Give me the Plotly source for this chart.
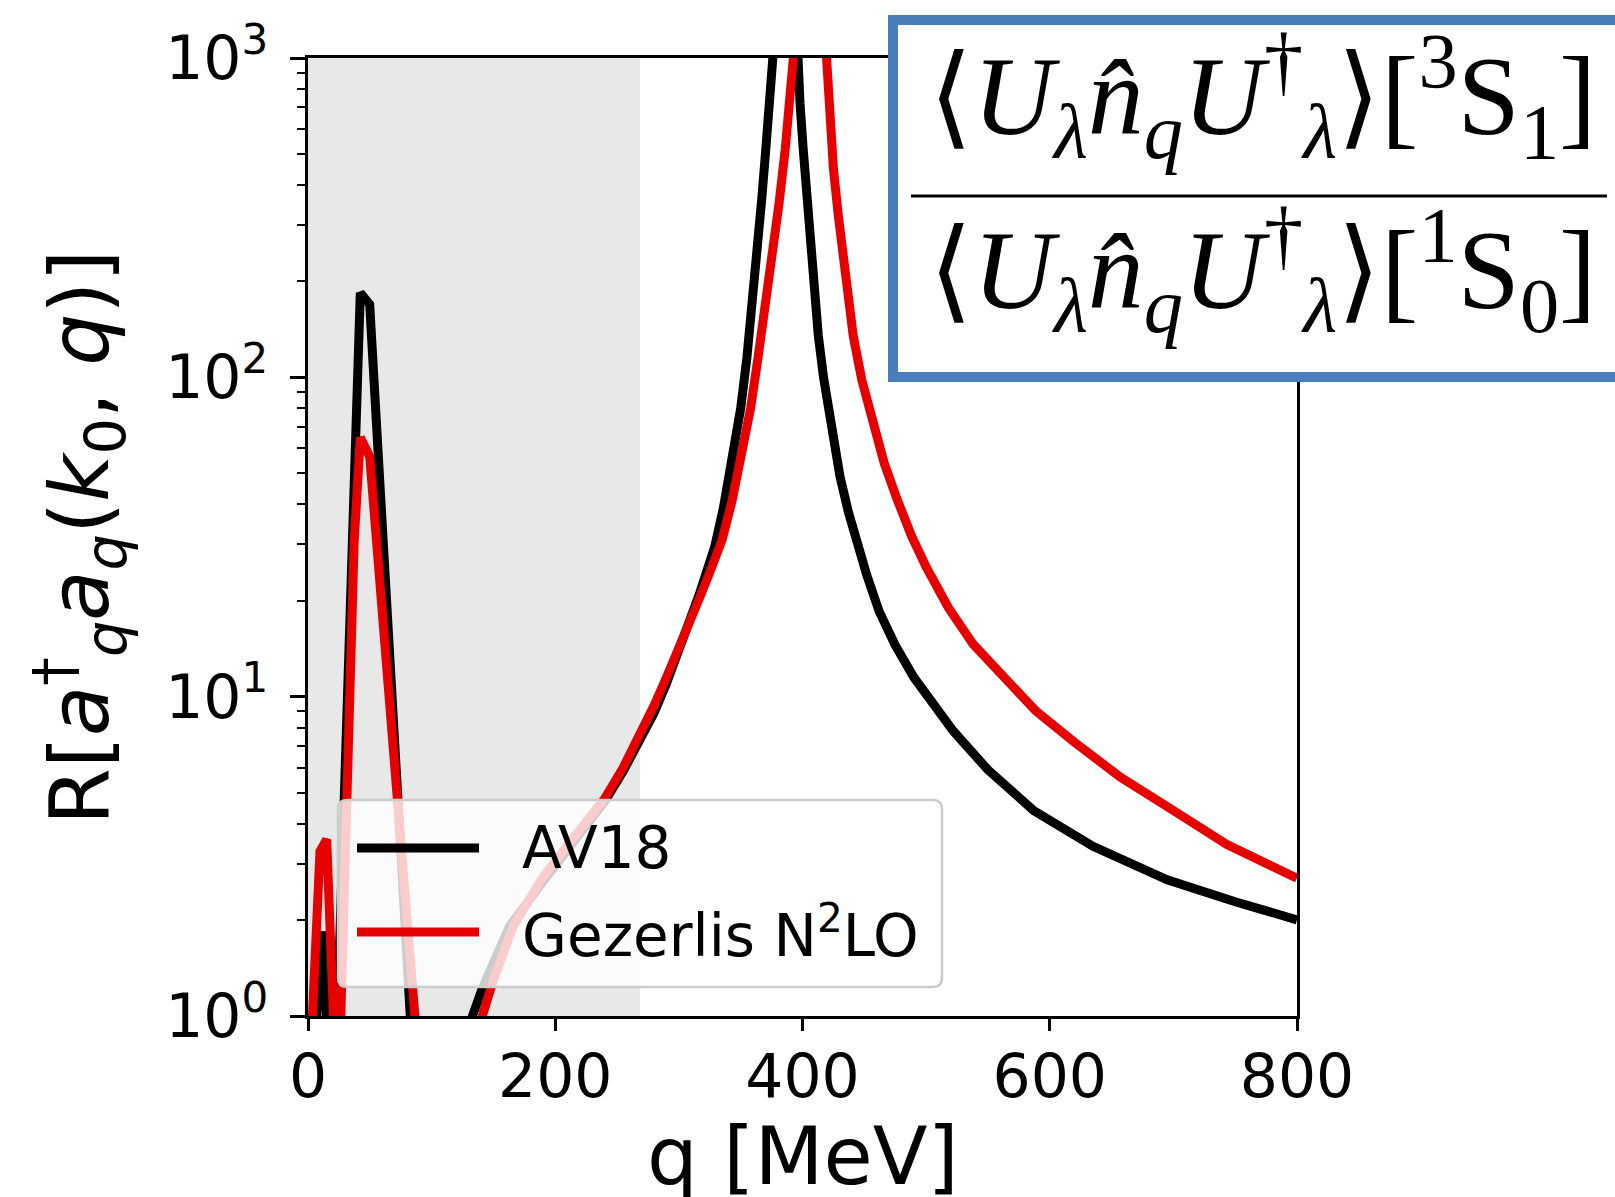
import plotly.graph_objects as go

# ---- data: ratio R[a†_q a_q(k0, q)] vs relative momentum q [MeV] ----
q_av18 = [0, 11.9, 20, 42.3, 49.9, 90, 105, 120, 133, 141, 150, 163, 190, 215,
          240, 255, 267, 280, 290, 300, 310, 317, 323, 329, 336, 344, 350, 355, 359,
          363, 367, 370, 373, 376, 386,
          395.3, 398, 400.6, 403, 406, 409, 412.8, 417, 423.6, 430.3, 437, 444, 452,
          462, 475, 490, 505, 522, 550, 587, 635, 695, 750, 800]
r_av18 = [0.42, 1.84, 0.35, 184, 169, 0.32, 0.12, 0.35, 1.0, 1.22, 1.48, 1.91, 2.63, 3.5,
          4.7, 5.85, 7.15, 8.9, 11.0, 13.8, 17.6, 21.2, 25, 29.5, 39, 58, 80, 115, 160,
          240, 360, 500, 700, 1000, 8000,
          1000, 720, 517, 385, 270, 195, 135, 100, 68, 49, 38, 30, 24,
          18.5, 14.5, 11.5, 9.5, 7.8, 5.9, 4.4, 3.4, 2.67, 2.28, 2.0]

q_gez = [0, 9.7, 15.1, 24, 37.3, 42.3, 49.9, 95, 110, 125, 141, 150, 166, 190, 215,
         240, 255, 267, 280, 290, 300, 310, 317, 325, 335, 343, 352, 358, 364, 370,
         376, 381, 386, 389.5, 392.6, 405,
         418.2, 420, 422.2, 425, 429, 434, 441, 448, 457, 466, 476, 488, 500, 518,
         538, 560, 589, 620, 657, 700, 743, 800]
r_gez = [0.5, 3.28, 3.57, 0.45, 30.4, 64.8, 56.5, 0.39, 0.15, 0.4, 1.0, 1.3, 1.91, 2.72, 3.62,
         4.8, 6.0, 7.35, 9.4, 11.5, 14.1, 17.4, 20.5, 24.5, 31, 41, 59.4, 80, 115, 165,
         245, 350, 517, 710, 1000, 8000,
         1000, 800, 600, 450, 320, 210, 135, 98, 72, 54, 42, 32, 25.5, 19,
         14.6, 11.8, 9.0, 7.2, 5.6, 4.4, 3.45, 2.7]

series_names = ["AV18", "Gezerlis N<sup>2</sup>LO"]
series_colors = ["#000000", "#e60000"]

x_ticks = [0, 200, 400, 600, 800]
y_ticks = [1, 10, 100, 1000]
y_ticktext = ["10<sup>0</sup>", "10<sup>1</sup>", "10<sup>2</sup>", "10<sup>3</sup>"]
y_minor = [m * 10 ** d for d in range(3) for m in range(2, 10)]

shade_end = 268.6  # upper edge of the shaded low-momentum band [MeV]

# ---- figure geometry (pixels) ----
W, H = 1615, 1197
L, R, T, B = 308, 318, 58, 181
PW, PH = W - L - R, H - T - B
LW = 9  # curve width


def px(xp):
    return (xp - L) / PW


def py(yp):
    return (H - B - yp) / PH


fig = go.Figure()
for qs, rs, name, col in [(q_av18, r_av18, series_names[0], series_colors[0]),
                          (q_gez, r_gez, series_names[1], series_colors[1])]:
    fig.add_trace(go.Scatter(x=qs, y=rs, mode="lines", name=name,
                             line=dict(color=col, width=LW), showlegend=False))

font = "DejaVu Sans"
axis_common = dict(showline=True, linecolor="black", linewidth=2.5, mirror=True,
                   showgrid=False, zeroline=False, ticks="outside", tickcolor="black",
                   tickwidth=2.5, tickfont=dict(family=font, size=60, color="black"))

fig.update_xaxes(range=[0, 800], tickvals=x_ticks, ticklen=12,
                 ticklabelstandoff=-6, **axis_common)
fig.update_yaxes(type="log", range=[0, 3], tickvals=y_ticks, ticktext=y_ticktext,
                 ticklen=15, ticklabelstandoff=10,
                 minor=dict(tickvals=y_minor, ticks="outside", ticklen=8.5,
                            tickwidth=2, tickcolor="black", showgrid=False),
                 **axis_common)

shapes = []
# shaded band
shapes.append(dict(type="rect", xref="x", yref="paper", x0=0, x1=shade_end, y0=0, y1=1,
                   fillcolor="#e8e8e8", line=dict(width=0), layer="below"))

# legend frame (rounded, semi-transparent)
lx0, lx1, ly0, ly1, rad = px(338), px(942), py(987), py(800), 9
rx, ry = rad / PW, rad / PH
path = (f"M {lx0 + rx},{ly1} L {lx1 - rx},{ly1} Q {lx1},{ly1} {lx1},{ly1 - ry} "
        f"L {lx1},{ly0 + ry} Q {lx1},{ly0} {lx1 - rx},{ly0} L {lx0 + rx},{ly0} "
        f"Q {lx0},{ly0} {lx0},{ly0 + ry} L {lx0},{ly1 - ry} Q {lx0},{ly1} {lx0 + rx},{ly1} Z")
shapes.append(dict(type="path", xref="paper", yref="paper", path=path,
                   fillcolor="rgba(255,255,255,0.8)", line=dict(color="#cccccc", width=2.5),
                   layer="above"))
for yl, col in [(848, series_colors[0]), (932, series_colors[1])]:
    shapes.append(dict(type="line", xref="paper", yref="paper", x0=px(357), x1=px(479),
                       y0=py(yl), y1=py(yl), line=dict(color=col, width=LW), layer="above"))

# formula box
shapes.append(dict(type="rect", xref="paper", yref="paper", x0=px(893), x1=px(1660),
                   y0=py(377), y1=py(20), fillcolor="white",
                   line=dict(color="#4a7ebb", width=10), layer="above"))
shapes.append(dict(type="line", xref="paper", yref="paper", x0=px(911), x1=px(1607),
                   y0=py(196), y1=py(196), line=dict(color="black", width=3), layer="above"))

annotations = []
for yl, txt in [(848, series_names[0]), (932, series_names[1])]:
    annotations.append(dict(x=px(520), y=py(yl), xref="paper", yref="paper", text=txt,
                            showarrow=False, xanchor="left", yanchor="middle",
                            font=dict(family=font, size=58, color="black")))

annotations.append(dict(x=px(802.5), y=py(1156), xref="paper", yref="paper",
                        text="q [MeV]", showarrow=False, xanchor="center", yanchor="middle",
                        font=dict(family=font, size=80, color="black")))
annotations.append(dict(x=px(80), y=py(538), xref="paper", yref="paper", textangle=-90,
                        text="R[<i>a</i><sup>†</sup><sub><i>q</i></sub><i>a</i><sub><i>q</i></sub>"
                             "(<i>k</i><sub>0</sub>, <i>q</i>)]",
                        showarrow=False, xanchor="center", yanchor="middle",
                        font=dict(family=font, size=82, color="black")))

serif = "Liberation Serif"
num = ("⟨<i>U</i><sub><i>λ</i></sub><i>n̂</i><sub><i>q</i></sub><i>U</i><sup>†</sup>"
       "<sub><i>λ</i></sub>⟩[<sup>3</sup>S<sub>1</sub>]")
den = ("⟨<i>U</i><sub><i>λ</i></sub><i>n̂</i><sub><i>q</i></sub><i>U</i><sup>†</sup>"
       "<sub><i>λ</i></sub>⟩[<sup>1</sup>S<sub>0</sub>]")
for yl, txt in [(96, num), (270, den)]:
    annotations.append(dict(x=px(1262), y=py(yl), xref="paper", yref="paper", text=txt,
                            showarrow=False, xanchor="center", yanchor="middle",
                            font=dict(family=serif, size=112, color="black")))

fig.update_layout(width=W, height=H, margin=dict(l=L, r=R, t=T, b=B, pad=0),
                  paper_bgcolor="white", plot_bgcolor="white",
                  shapes=shapes, annotations=annotations, showlegend=False)

fig.write_html("out.html")
